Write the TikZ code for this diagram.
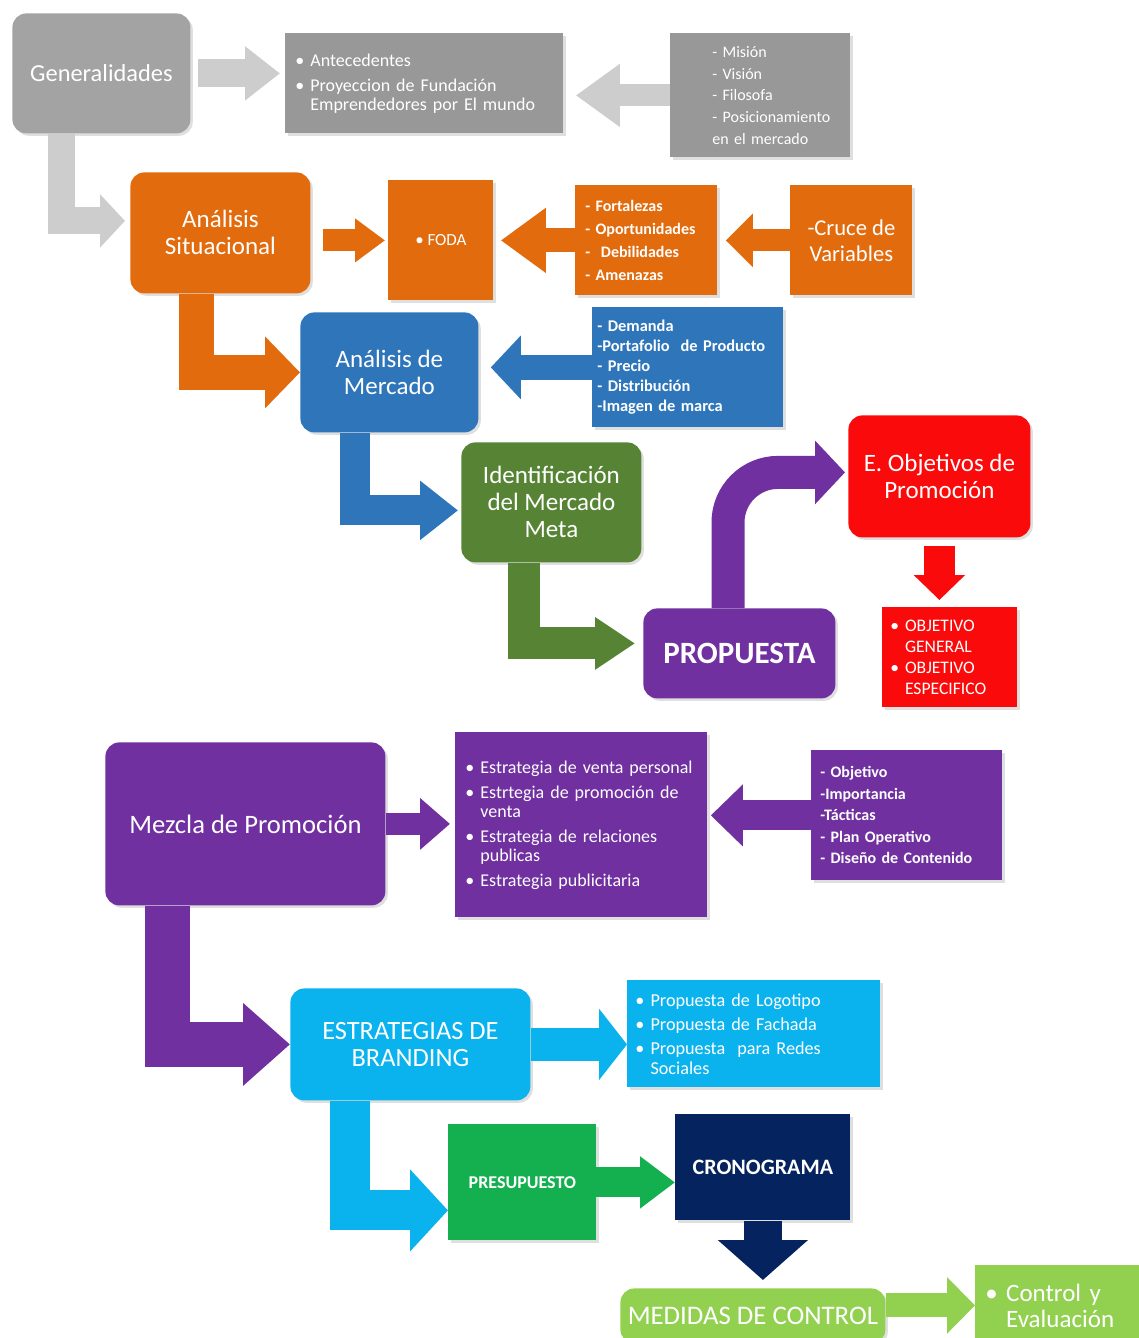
\documentclass[tikz,border=0pt]{standalone}
\usepackage{fontspec}
\setmainfont{Carlito}
\usetikzlibrary{arrows.meta,calc,shadows}
\definecolor{grisuno}{RGB}{163,163,163}
\definecolor{grisdos}{RGB}{152,152,152}
\definecolor{grisflecha}{RGB}{205,205,205}
\definecolor{naranja}{RGB}{226,107,14}
\definecolor{azul}{RGB}{46,117,186}
\definecolor{verdeosc}{RGB}{86,132,52}
\definecolor{morado}{RGB}{112,48,160}
\definecolor{rojo}{RGB}{250,10,10}
\definecolor{celeste}{RGB}{10,178,238}
\definecolor{verde}{RGB}{20,176,80}
\definecolor{marino}{RGB}{5,35,95}
\definecolor{lima}{RGB}{146,208,80}

\begin{document}
\begin{tikzpicture}[x=0.5pt,y=-0.5pt,
  box/.style={anchor=north west,text=white,align=center,inner sep=0pt,
    font=\fontsize{12.5}{13.5}\selectfont,
    drop shadow={opacity=0.25,shadow xshift=1.2pt,shadow yshift=-1.2pt}},
  rbox/.style={box,rounded corners=7pt},
  lst/.style={box,align=left},
  blk/.style n args={3}{line width=#1,-{Triangle[width=#2,length=#3]},line join=miter}]
  \clip (0,0) rectangle (1139,1338);

  \node[rbox,fill=grisuno,minimum width=89pt,minimum height=60pt,font=\fontsize{12.2}{13.5}\selectfont] (gen) at (12,13) {Generalidades};
  \node[lst,fill=grisdos,minimum height=50pt,text width=129pt,inner xsep=5pt,
    font=\fontsize{9}{9.5}\selectfont] (ante) at (285,33)
    {•~Antecedentes\\[3pt]•~Proyeccion de Fundación\\\hphantom{•~}Emprendedores por El mundo};
  \node[lst,fill=grisdos,minimum height=62pt,text width=48pt,inner xsep=21pt,
    font=\fontsize{8}{10.9}\selectfont] (mis) at (670,33)
    {\mbox{- Misión}\\\mbox{- Visión}\\\mbox{- Filosofa}\\\mbox{- Posicionamiento}\\\mbox{en el mercado}};

  \node[rbox,fill=naranja,minimum width=90pt,minimum height=60.5pt] (sit) at (130,172) {Análisis\\Situacional};
  \node[box,fill=naranja,minimum width=52.5pt,minimum height=60pt,font=\fontsize{8.5}{10}\selectfont] (foda) at (388,180) {•~FODA};
  \node[lst,fill=naranja,minimum height=55pt,text width=61pt,inner xsep=5pt,
    font=\bfseries\fontsize{8}{11.5}\selectfont] (fort) at (575,185)
    {-~Fortalezas\\-~Oportunidades\\-~~Debilidades\\-~Amenazas};
  \node[box,fill=naranja,minimum width=61pt,minimum height=55pt,font=\fontsize{11.3}{13}\selectfont] (cruce) at (790,185) {-Cruce de\\Variables};

  \node[rbox,fill=azul,minimum width=89pt,minimum height=60pt] (merc) at (300,312) {Análisis de\\Mercado};
  \node[lst,fill=azul,minimum height=60pt,text width=90.5pt,inner xsep=2.5pt,
    font=\bfseries\fontsize{8.2}{10}\selectfont] (dem) at (592,307)
    {-~Demanda\\-Portafolio~~de~Producto\\-~Precio\\-~Distribución\\-Imagen~de~marca};

  \node[rbox,fill=verdeosc,minimum width=90pt,minimum height=60pt] (iden) at (461,442) {Identificación\\del Mercado\\Meta};
  \node[rbox,fill=morado,minimum width=96pt,minimum height=45pt,font=\bfseries\fontsize{15.5}{16}\selectfont] (prop) at (643,608) {PROPUESTA};
  \node[rbox,fill=rojo,minimum width=91pt,minimum height=61pt,font=\fontsize{12.5}{13.5}\selectfont] (eobj) at (848,415) {E. Objetivos de\\Promoción};
  \node[lst,fill=rojo,minimum height=50pt,text width=59.5pt,inner xsep=4pt,
    font=\fontsize{8.8}{10.5}\selectfont] (ogen) at (882,607)
    {•~OBJETIVO\\\hphantom{•~}GENERAL\\•~OBJETIVO\\\hphantom{•~}ESPECIFICO};

  \node[rbox,fill=morado,minimum width=140pt,minimum height=81.5pt,font=\fontsize{13.3}{15}\selectfont] (mez) at (105,742) {Mezcla de Promoción};
  \node[lst,fill=morado,minimum height=92.5pt,text width=116pt,inner xsep=5pt,
    font=\fontsize{9}{9.5}\selectfont] (estr) at (455,732)
    {•~Estrategia~de~venta~personal\\[3pt]•~Estrtegia de promoción de\\\hphantom{•~}venta\\[3pt]%
     •~Estrategia de relaciones\\\hphantom{•~}publicas\\[3pt]•~Estrategia publicitaria};
  \node[lst,fill=morado,minimum height=65pt,text width=86.5pt,inner xsep=4.5pt,
    font=\bfseries\fontsize{8}{10.75}\selectfont] (tact) at (811,750)
    {-~Objetivo\\-Importancia\\-Tácticas\\-~Plan~Operativo\\-~Diseño~de~Contenido};

  \node[rbox,fill=celeste,minimum width=120pt,minimum height=56pt,font=\fontsize{13.2}{13.5}\selectfont] (brand) at (290,988) {ESTRATEGIAS DE\\BRANDING};
  \node[lst,fill=celeste,minimum height=53.5pt,text width=118.5pt,inner xsep=4pt,
    font=\fontsize{9.1}{10}\selectfont] (logo) at (627,980)
    {•~Propuesta de Logotipo\\[2pt]•~Propuesta de Fachada\\[2pt]•~Propuesta~~para Redes\\\hphantom{•~}Sociales};
  \node[box,fill=verde,minimum width=74pt,minimum height=58pt,font=\bfseries\fontsize{9}{10}\selectfont] (pres) at (448,1124) {PRESUPUESTO};
  \node[box,fill=marino,minimum width=87.5pt,minimum height=53pt,font=\bfseries\fontsize{11}{13}\selectfont] (cron) at (675,1114) {CRONOGRAMA};
  \node[rbox,fill=lima,minimum width=132.5pt,minimum height=27.5pt,font=\fontsize{13.4}{14}\selectfont] (med) at (620,1288) {MEDIDAS DE CONTROL};
  \node[lst,fill=lima,minimum height=40pt,text width=75pt,inner xsep=5pt,
    font=\fontsize{12.5}{13}\selectfont] (ctrl) at (975,1265)
    {•~Control y\\\hphantom{•~}Evaluación};

  \draw[blk={14pt}{26pt}{17.5pt},grisflecha] ([xshift=3.5pt]gen.east) -- ([xshift=-2.5pt]gen.east -| ante.west);
  \draw[blk={11pt}{30pt}{22pt},grisflecha] (mis.west) -- ([xshift=6pt]mis.west -| ante.east);
  \draw[blk={13.5pt}{26pt}{12.5pt},grisflecha] ([xshift=24.5pt]gen.south west) |- ([xshift=-2.5pt,yshift=6pt]sit.west);

  \draw[blk={11pt}{21pt}{15pt},naranja] ([xshift=6pt]sit.east |- foda.west) -- ([xshift=-1.5pt]foda.west);
  \draw[blk={12pt}{31pt}{22.5pt},naranja] (fort.west) -- ([xshift=3.5pt]fort.west -| foda.east);
  \draw[blk={11pt}{26pt}{13.5pt},naranja] (cruce.west) -- ([xshift=4pt]cruce.west -| fort.east);
  \draw[blk={17.5pt}{35pt}{17.5pt},naranja] ([xshift=33pt]sit.south west) |- (merc.west);

  \draw[blk={12.5pt}{31pt}{15pt},azul] (dem.west) -- ([xshift=6pt]dem.west -| merc.east);
  \draw[blk={15pt}{28.5pt}{19pt},azul] ([xshift=27.5pt]merc.south west) |- ([xshift=-1.5pt,yshift=-4pt]iden.west);
  \draw[blk={16pt}{25pt}{20pt},verdeosc] ([xshift=31.5pt]iden.south west) |- ([xshift=-4pt,yshift=5pt]prop.west);
  \draw[blk={16.5pt}{31pt}{15pt},morado,rounded corners=25pt] ([xshift=42.5pt]prop.north west) |- ([xshift=-1.5pt,yshift=2pt]eobj.west);
  \draw[blk={15.5pt}{25pt}{12.5pt},rojo] ([yshift=-4pt]eobj.south) -- ([yshift=3.5pt]eobj.south |- ogen.north);

  \draw[blk={11pt}{25pt}{15pt},morado] (mez.east) -- ([xshift=-2.5pt]mez.east -| estr.west);
  \draw[blk={15pt}{30pt}{16pt},morado] (tact.west) -- ([xshift=1.5pt]tact.west -| estr.east);
  \draw[blk={22.5pt}{40pt}{23.5pt},morado] ([xshift=31pt]mez.south west) |- (brand.west);

  \draw[blk={16.5pt}{35pt}{14pt},celeste] (brand.east) -- (brand.east -| logo.west);
  \draw[blk={20pt}{40pt}{19pt},celeste] ([xshift=30pt]brand.south west) |- ([yshift=-14pt]pres.west);
  \draw[blk={15pt}{25pt}{17.5pt},verde] ([xshift=-8pt]pres.east) -- (pres.east -| cron.west);
  \draw[blk={19pt}{44pt}{20pt},marino] (cron.south) -- ([yshift=4pt]cron.south |- med.north);
  \draw[blk={12pt}{27.5pt}{14pt},lima] (med.east |- ctrl.west) -- (ctrl.west);
\end{tikzpicture}
\end{document}
